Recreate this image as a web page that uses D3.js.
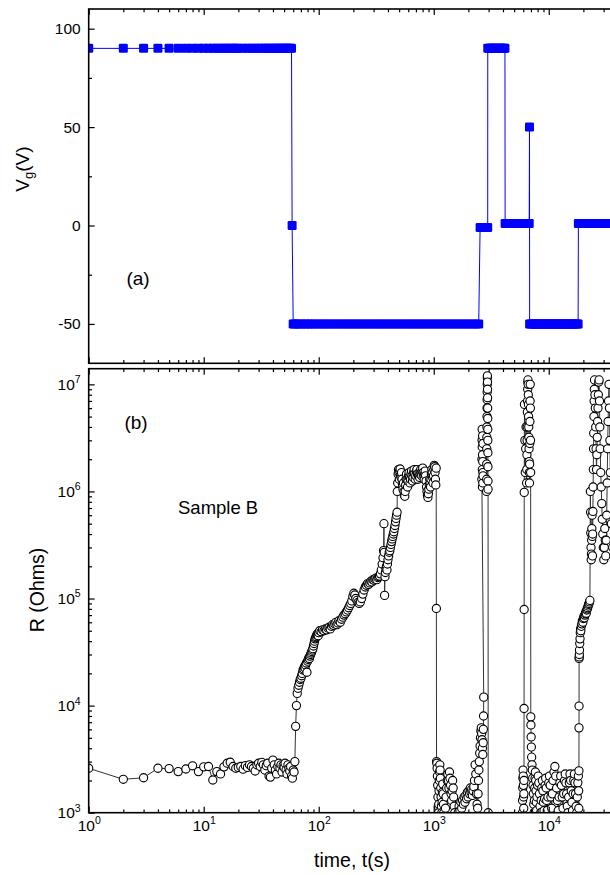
<!DOCTYPE html>
<html><head><meta charset="utf-8">
<script src="https://cdn.jsdelivr.net/npm/d3@7"></script>
<style>body{margin:0;background:#fff;overflow:hidden}svg{display:block;font-family:"Liberation Sans",Arial,sans-serif}</style>
</head><body><svg id="c" width="610" height="875"></svg>
<script>
// ---------------- DATA ----------------
// Panel (a): gate voltage Vg (V) vs time (s)  [time, Vg]
const vgHold90 = [[1,90],[2,90],[3,90],[4,90],[5,90],[6,90],[7,90],[8,90],[9,90],[10,90],[11,90],[12,90],[13,90],[14,90],[15,90],[16,90],[17,90],[18,90],[19,90],[20,90],[22,90],[24,90],[26,90],[28,90],[30,90],[32,90],[34,90],[36,90],[38,90],[40,90],[42,90],[44,90],[46,90],[48,90],[50,90],[52,90],[54,90],[56,90],[58,90]];
const vgZeroStep = [[58.7,0]];
const vgMinus50a = [[60,-50],[62,-50],[66,-50],[70,-50],[75,-50],[80,-50],[86,-50],[92,-50],[100,-50],[108,-50],[116,-50],[125,-50],[135,-50],[146,-50],[158,-50],[170,-50],[184,-50],[198,-50],[214,-50],[231,-50],[250,-50],[270,-50],[292,-50],[315,-50],[340,-50],[367,-50],[396,-50],[428,-50],[462,-50],[499,-50],[539,-50],[582,-50],[628,-50],[678,-50],[732,-50],[790,-50],[853,-50],[921,-50],[995,-50],[1075,-50],[1160,-50],[1253,-50],[1353,-50],[1461,-50],[1578,-50],[1704,-50],[1840,-50],[1987,-50],[2146,-50],[2318,-50],[2460,-50]];
const vgMinus1 = [[2530,-1],[2600,-1],[2670,-1],[2740,-1],[2810,-1],[2880,-1],[2946,-1]];
const vgHold90b = [[2950,90],[3030,90],[3120,90],[3210,90],[3310,90],[3410,90],[3510,90],[3620,90],[3730,90],[3840,90],[3960,90],[4080,90],[4160,90]];
const vgPlus1a = [[4175,1],[4300,1],[4430,1],[4570,1],[4710,1],[4850,1],[5000,1],[5150,1],[5310,1],[5470,1],[5640,1],[5810,1],[5990,1],[6170,1],[6360,1],[6550,1],[6760,1]];
const vgPulse50 = [[6800,50]];
const vgMinus50b = [[6820,-50],[7030,-50],[7250,-50],[7470,-50],[7700,-50],[7940,-50],[8190,-50],[8440,-50],[8700,-50],[8970,-50],[9250,-50],[9540,-50],[9830,-50],[10140,-50],[10450,-50],[10780,-50],[11110,-50],[11460,-50],[11810,-50],[12180,-50],[12550,-50],[12940,-50],[13350,-50],[13760,-50],[14190,-50],[14630,-50],[15080,-50],[15550,-50],[16030,-50],[16530,-50],[17040,-50],[17570,-50],[18000,-50]];
const vgPlus1b = [[18100,1],[18660,1],[19240,1],[19840,1],[20450,1],[21090,1],[21740,1],[22420,1],[23110,1],[23830,1],[24570,1],[25330,1],[26120,1],[26930,1],[27760,1],[28620,1],[29510,1],[30430,1],[31370,1],[32340,1],[33350,1],[34380,1],[35450,1],[36550,1],[37680,1],[38850,1],[40000,1]];

// Panel (b): resistance R (Ohms) vs time (s)  [time, R]
const rBaseline = [[1,2600],[2,2050],[3,2120],[4,2600],[5,2580],[6,2420],[7,2560],[8,2740],[9,2420],[10,2680],[11,2700],[12,2020],[13,2420],[14,2300],[15,2680],[16,2900],[17,2960],[18,2700],[19,2600],[20,2650],[21,2700],[22,2550],[23,2750],[24,2650],[25,2800],[26,2700],[27,2600],[28,2450],[29,2800],[30,2900],[31,2700],[32,2950],[33,2800],[34,2500],[35,2750],[36,2900],[37,2200],[38,2150],[39,2600],[40,3100],[41,2800],[42,2500],[43,2300],[44,2700],[45,2900],[46,2600],[47,2800],[48,2400],[49,2750],[50,2650],[51,2900],[52,2500],[53,2300],[54,2800],[55,2600],[56,2450],[57,2700],[58,2200],[59,2100],[60,2500],[61,2400],[62,3000]];
const rFirstRise = [[63,6400],[64,10000],[65,13000],[66,14500],[67,15500],[68,16500],[69,17500],[70,18000],[71,19000],[72,20000],[73,21500],[74,22000],[75,23000],[76,22500],[77,24000],[78,25000],[79,20500],[80,26000],[81,27000],[82,28000],[83,27500],[84,29000],[85,30000],[86,31000],[87,32000],[88,33000],[89,34000],[90,36000],[91,38000],[92,40000],[93,42000],[94,43000],[95,44000],[96,45500],[97,46000],[98,47000],[99,45000],[100,48000]];
const rClimb = [[102,50000],[105,49000],[108,51000],[111,50000],[114,52000],[117,51000],[120,53000],[123,54000],[126,52000],[129,55000],[132,57000],[135,56000],[138,58000],[141,60000],[144,57000],[147,59000],[150,62000],[154,60000],[158,64000],[162,67000],[166,70000],[170,72000],[174,75000],[178,78000],[182,82000],[186,86000],[190,90000],[194,95000],[198,105000],[202,112000],[206,108000],[210,100000],[215,96000],[220,92000],[225,90000],[230,93000],[236,100000],[242,110000],[248,120000],[254,128000],[260,133000],[266,138000],[272,135000],[278,140000],[284,145000],[290,143000],[296,150000],[302,148000],[308,152000],[314,155000],[320,150000],[326,157000],[332,160000],[338,162000],[344,170000],[350,185000],[356,210000],[362,240000],[366,280000],[369,500000],[371,270000],[374,107000],[377,160000],[380,175000],[384,190000],[388,200000],[392,185000],[396,210000],[400,230000],[405,250000],[410,270000],[415,280000],[420,300000],[425,320000],[430,340000],[435,360000],[440,380000],[445,400000],[450,420000],[455,450000],[460,480000],[465,520000],[470,560000],[475,600000],[480,640000]];
const rPlateau = [[482,1.0e6],[486,1.2e6],[490,1.45e6],[494,1.6e6],[498,1.5e6],[502,1.3e6],[506,1.55e6],[510,1.62e6],[515,1.4e6],[520,1.35e6],[525,1.5e6],[530,1.3e6],[535,1.15e6],[540,1.05e6],[545,1.2e6],[550,1.0e6],[555,0.92e6],[560,0.9e6],[565,1.0e6],[570,1.15e6],[575,1.3e6],[580,1.45e6],[586,1.3e6],[592,1.1e6],[598,1.25e6],[604,1.4e6],[610,1.5e6],[616,1.35e6],[622,1.2e6],[628,1.3e6],[634,1.45e6],[640,1.55e6],[647,1.4e6],[654,1.25e6],[661,1.35e6],[668,1.5e6],[675,1.6e6],[682,1.45e6],[690,1.3e6],[698,1.4e6],[706,1.55e6],[714,1.6e6],[722,1.45e6],[730,1.3e6],[738,1.4e6],[746,1.5e6],[754,1.35e6],[762,1.45e6],[770,1.6e6],[778,1.5e6],[786,1.4e6],[794,1.55e6],[802,1.65e6],[810,1.5e6],[818,1.4e6],[826,1.3e6],[834,1.45e6],[842,1.55e6],[850,1.4e6],[858,1.25e6],[866,1.1e6],[874,1.0e6],[882,0.92e6],[890,0.88e6],[898,0.95e6],[906,1.05e6],[914,1.15e6],[922,1.3e6],[930,1.2e6],[938,1.1e6],[946,1.3e6],[954,1.45e6],[962,1.6e6],[970,1.5e6],[978,1.35e6],[986,1.2e6],[994,1.4e6],[1002,1.6e6],[1010,1.75e6],[1018,1.7e6],[1026,1.5e6],[1034,1.3e6],[1042,1.15e6],[1050,1.65e6]];
const rLowA = [[1054,80800],[1058,3000],[1064,2900],[1070,2600],[1076,2200],[1082,1800],[1088,1400],[1094,1150],[1100,1000],[1106,1200],[1112,1600],[1118,2000],[1124,2400],[1130,2800],[1136,2500],[1142,2100],[1150,1700],[1158,1400],[1166,1150],[1174,1000],[1182,1250],[1190,1550],[1198,1850],[1206,1500],[1214,1200],[1222,1000],[1240,900],[1265,1100],[1280,1400],[1295,1700],[1310,2000],[1325,2300],[1340,2000],[1355,1700],[1370,2400],[1385,2100],[1400,1800],[1415,1500],[1430,1300],[1445,1600],[1460,2000],[1475,1700],[1490,1400],[1505,1150],[1520,1000],[1540,850]];
const rLowB = [[1600,850],[1630,1000],[1660,1150],[1690,1050],[1720,1250],[1750,1100],[1780,1300],[1810,1200],[1840,1400],[1870,1250],[1900,1450],[1930,1350],[1960,1550],[1990,1400],[2020,1600],[2050,1500],[2080,1700],[2110,1550],[2140,1650],[2170,1450],[2200,1600],[2230,1750],[2260,2000],[2290,2800],[2320,2300],[2350,1500],[2380,1200],[2410,1100],[2430,1500],[2450,2000],[2470,2500],[2490,3000],[2510,3600],[2530,4200],[2550,5000],[2570,5800],[2590,6200],[2610,5500],[2630,4800],[2650,4000],[2670,3500],[2690,4500],[2700,6000],[2710,8000],[2720,12000]];
const rSpikeA = [[2620,1.3e6],[2625,2.0e6],[2630,3.0e6],[2635,3.8e6],[2640,2.6e6],[2645,1.6e6],[2650,1.1e6],[2655,2.2e6],[2660,3.3e6],[2665,1.9e6],[2670,1.2e6],[2675,1.5e6],[2680,2.8e6],[2685,1.4e6],[2880,1.0e6],[2884,1.3e6],[2888,1.8e6],[2892,2.5e6],[2896,3.2e6],[2900,4.0e6],[2904,5.0e6],[2908,6.0e6],[2912,7.2e6],[2916,8.5e6],[2920,1.0e7],[2924,1.15e7],[2928,1.2e7],[2932,1.05e7],[2936,9.0e6],[2940,7.5e6],[2944,6.0e6],[2948,4.8e6],[2952,3.8e6],[2955,3.0e6],[2958,2.3e6],[2961,1.7e6],[2964,1.25e6],[2967,1.05e6],[2975,1000],[2990,700],[5860,700]];
const rSpikeB = [[5880,800],[5900,1000],[5920,1300],[5940,1700],[5960,2100],[5980,2500],[6000,2200],[6020,1800],[6040,1400],[6060,1100],[6080,1500],[6090,2000],[6100,9400],[6110,79000],[6120,9.8e5],[6150,6.5e6],[6200,3.0e6],[6250,1.5e6],[6300,2.5e6],[6350,4.0e6],[6420,1.2e6],[6440,1.6e6],[6460,2.2e6],[6480,3.0e6],[6500,4.0e6],[6520,5.5e6],[6540,7.0e6],[6560,9.0e6],[6580,1.05e7],[6600,1.1e7],[6620,1.0e7],[6640,8.0e6],[6660,6.5e6],[6680,5.0e6],[6700,4.0e6],[6720,3.2e6],[6740,2.5e6],[6760,1.9e6],[6780,1.5e6],[6800,1.2e6],[6820,1.8e6],[6840,2.8e6],[6860,4.5e6],[6880,7.0e6],[6900,1.0e7],[6920,6.0e6],[6940,3.0e6],[6960,1.5e6],[6980,7850]];
const rDecay = [[7000,6600],[7030,5100],[7060,4100],[7100,3300],[7150,2800],[7200,2500],[7250,2100],[7300,1800],[7350,1500],[7400,1200],[7450,1000],[7500,1300],[7550,1700],[7600,2100],[7650,2400],[7700,2000],[7750,1600],[7800,1250],[7850,1050],[7900,1400],[8000,1800],[8100,2200],[8200,1900],[8300,1500],[8400,1150],[8500,1000],[8600,1300],[8700,1700],[8800,2000],[8900,1600],[9000,1250],[9100,1050],[9200,1350],[9300,1800],[9400,2100],[9500,1700],[9600,1300],[9700,1050],[9850,1400],[10000,1900],[10150,2200],[10300,1800],[10450,1400],[10600,1100],[10750,1500],[10900,2000],[11100,2400],[11300,2700],[11500,2200],[11700,1700],[11900,1300],[12100,1050],[12300,1400],[12500,1900],[12700,2200],[12900,1800],[13100,1400],[13300,1100],[13500,1500],[13700,2000],[13900,2300],[14100,1900],[14300,1500],[14500,1150],[14700,1000],[14900,1400],[15100,1900],[15300,2300],[15500,2000],[15700,1600],[15900,1250],[16100,1050],[16300,1500],[16500,2000],[16700,2300],[16900,1900],[17100,1500],[17300,1150],[17500,1000],[17700,1400],[17900,1900],[18100,2200],[18200,1600],[18250,1100],[18300,2460]];
const rRecover = [[18320,6200],[18340,9900],[18360,27600],[18400,28500],[18450,30000],[18500,33000],[18600,38000],[18700,42000],[18800,48000],[18900,52000],[19000,50000],[19200,55000],[19400,58000],[19600,62000],[19800,60000],[20000,65000],[20200,68000],[20400,66000],[20600,70000],[20800,72000],[21000,75000],[21200,73000],[21400,78000],[21600,80000],[21800,82000],[22000,85000],[22200,88000],[22400,90000],[22600,93000],[22800,96000]];
const rSpikeC = [[23000,1.0e6],[23100,6.4e5],[23200,4.1e5],[23300,3.0e5],[23400,2.3e5],[23500,2.6e5],[23600,3.5e5],[23700,4.5e5],[23800,6.0e5],[23900,3.8e5],[24000,2.5e5],[24100,4.0e5],[24200,6.5e5],[24300,1.1e6],[24400,1.6e6],[24500,2.5e6],[24600,3.5e6],[24700,5.0e6],[24800,7.0e6],[24900,9.0e6],[25000,1.1e7],[25200,8.0e6],[25400,6.0e6],[25600,4.0e6],[25800,2.5e6],[26000,1.6e6],[26200,2.2e6],[26400,3.2e6],[26600,4.5e6],[26800,6.0e6],[27000,8.0e6],[27200,1.05e7],[27400,1.1e7],[27600,7.0e6],[27800,4.0e6],[28000,2.5e6],[28300,1.5e6],[28600,1.1e6],[28900,7.7e5],[29200,5.5e5],[29500,4.0e5],[29800,3.0e5],[30100,2.3e5],[30400,3.0e5],[30700,4.5e5],[31000,3.5e5],[31300,2.5e5],[31600,3.5e5],[31900,6.0e5],[32200,1.2e6],[32500,2.5e6],[32800,4.5e6],[33100,7.0e6],[33400,1.0e7],[33700,6.0e6],[34000,3.0e6],[34300,1.5e6],[35000,5.0e5],[36000,3.0e5]];

// tick labels
const xTickExponents = [0,1,2,3,4];
const rTickExponents = [3,4,5,6,7];
const vgTickValues = [-50,0,50,100];
const vgMinorValues = [-25,25,75];

// ---------------- LAYOUT ----------------
const vgData = [].concat(vgHold90, vgZeroStep, vgMinus50a, vgMinus1, vgHold90b, vgPlus1a, vgPulse50, vgMinus50b, vgPlus1b);
const rData = [].concat(rBaseline, rFirstRise, rClimb, rPlateau, rLowA, rLowB, rSpikeA, rSpikeB, rDecay, rRecover, rSpikeC);

const L = 88.7, R = 618;
const pA = {top: 9, bottom: 363.3};
const pB = {top: 368.7, bottom: 812.7};
const svg = d3.select("#c");
const x = d3.scaleLog().domain([1, 4e4]).range([L, R]);
const yV = d3.scaleLinear().domain([-70, 110]).range([pA.bottom, pA.top]);
const yR = d3.scaleLog().domain([1e3, 1.4e7]).range([pB.bottom, pB.top]);

const defs = svg.append("defs");
defs.append("clipPath").attr("id","clipA").append("rect").attr("x",L).attr("y",pA.top).attr("width",R-L).attr("height",pA.bottom-pA.top);
defs.append("clipPath").attr("id","clipB").append("rect").attr("x",L).attr("y",pB.top).attr("width",R-L).attr("height",pB.bottom-pB.top);

// ---- Panel (a) data ----
const gA = svg.append("g").attr("clip-path","url(#clipA)");
gA.append("path").datum(vgData)
  .attr("d", d3.line().x(d=>x(d[0])).y(d=>yV(d[1])))
  .attr("fill","none").attr("stroke","#0000ff").attr("stroke-width",1);
gA.selectAll("rect.sq").data(vgData).join("rect").attr("class","sq")
  .attr("x", d=>x(d[0])-4.5).attr("y", d=>yV(d[1])-4.5)
  .attr("width",9).attr("height",9).attr("rx",1.3)
  .attr("fill","#0000ff");

// ---- Panel (b) data ----
const gB = svg.append("g").attr("clip-path","url(#clipB)");
gB.append("path").datum(rData)
  .attr("d", d3.line().x(d=>x(d[0])).y(d=>yR(d[1])))
  .attr("fill","none").attr("stroke","#333").attr("stroke-width",1);
gB.selectAll("circle").data(rData).join("circle")
  .attr("cx", d=>x(d[0])).attr("cy", d=>yR(d[1])).attr("r",4.1)
  .attr("fill","#fff").attr("stroke","#000").attr("stroke-width",1.1);

// ---- Axes ----
const xMajor = xTickExponents.map(e=>Math.pow(10,e));
const xMinor = [];
xTickExponents.forEach(e=>{ for(let k=2;k<=9;k++){ const v=k*Math.pow(10,e); if(v<=4e4) xMinor.push(v);} });
const rMajor = rTickExponents.map(e=>Math.pow(10,e));
const rMinor = [];
rTickExponents.forEach(e=>{ for(let k=2;k<=9;k++){ const v=k*Math.pow(10,e); if(v<=1.4e7) rMinor.push(v);} });

function styleAxis(g){ g.select(".domain").remove(); g.attr("color","#000").attr("font-family",null).attr("font-size",null); g.selectAll("line").attr("stroke-width",1.2); }
function noLabels(g){ g.selectAll("text").remove(); }
function powLabels(g){
  g.selectAll(".tick text").each(function(d){
    const t=d3.select(this); const e=Math.round(Math.log10(d));
    t.text(null).attr("font-size",15.5).attr("fill","#000");
    t.append("tspan").text("10");
    t.append("tspan").attr("font-size",10.5).attr("dy",-6.5).text(e);
  });
}
function addX(y, orient, size, vals, labels){
  const ax = (orient==="top"?d3.axisTop(x):d3.axisBottom(x)).tickValues(vals).tickSize(-size).tickSizeOuter(0).tickPadding(7);
  const g = svg.append("g").attr("transform",`translate(0,${y})`).call(ax).call(styleAxis);
  if(labels) g.call(powLabels); else g.call(noLabels);
}
[[pA.top,"top"],[pA.bottom,"bottom"],[pB.top,"top"],[pB.bottom,"bottom"]].forEach(([y,o],i)=>{
  addX(y,o,6,xMajor,i===3);
  addX(y,o,3.3,xMinor,false);
});
// Vg left axis
svg.append("g").attr("transform",`translate(${L},0)`)
  .call(d3.axisLeft(yV).tickValues(vgTickValues).tickFormat(d=>String(d)).tickSize(-6).tickSizeOuter(0).tickPadding(8))
  .call(styleAxis).call(g=>g.selectAll("text").attr("font-size",15.5).attr("fill","#000"));
svg.append("g").attr("transform",`translate(${L},0)`)
  .call(d3.axisLeft(yV).tickValues(vgMinorValues).tickSize(-3.3).tickSizeOuter(0))
  .call(styleAxis).call(noLabels);
// R left axis
svg.append("g").attr("transform",`translate(${L},0)`)
  .call(d3.axisLeft(yR).tickValues(rMajor).tickSize(-6).tickSizeOuter(0).tickPadding(8))
  .call(styleAxis).call(powLabels);
svg.append("g").attr("transform",`translate(${L},0)`)
  .call(d3.axisLeft(yR).tickValues(rMinor).tickSize(-3.3).tickSizeOuter(0))
  .call(styleAxis).call(noLabels);

// Frames
[pA,pB].forEach(p=>{
  svg.append("rect").attr("x",L).attr("y",p.top).attr("width",R-L).attr("height",p.bottom-p.top)
    .attr("fill","none").attr("stroke","#000").attr("stroke-width",1.6);
});

// ---- Texts ----
svg.append("text").attr("x",138).attr("y",285).attr("text-anchor","middle").attr("font-size",19).text("(a)");
svg.append("text").attr("x",136).attr("y",429).attr("text-anchor","middle").attr("font-size",19).text("(b)");
svg.append("text").attr("x",178).attr("y",514).attr("font-size",18.5).text("Sample B");
svg.append("text").attr("x",352).attr("y",867).attr("text-anchor","middle").attr("font-size",19.5).text("time, t(s)");
svg.append("text").attr("transform","translate(44,590) rotate(-90)").attr("text-anchor","middle").attr("font-size",19.5).text("R (Ohms)");
const vg = svg.append("text").attr("transform","translate(29,169) rotate(-90)").attr("text-anchor","middle").attr("font-size",19);
vg.append("tspan").text("V");
vg.append("tspan").attr("font-size",13).attr("dy",4).text("g");
vg.append("tspan").attr("dy",-4).text("(V)");
</script></body></html>
